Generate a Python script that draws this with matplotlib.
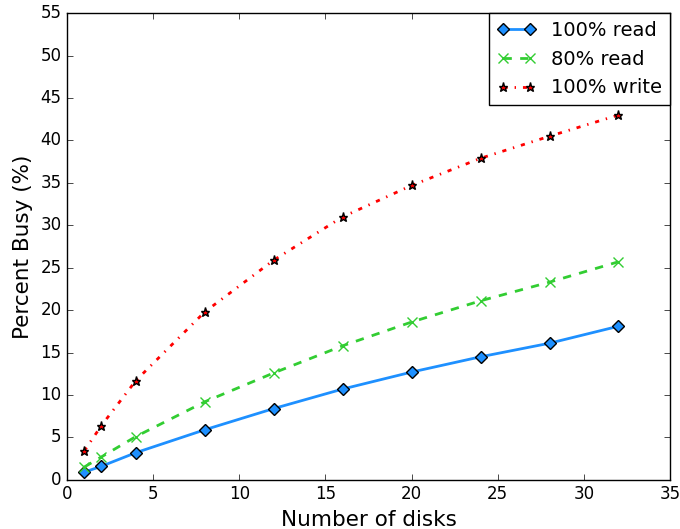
import matplotlib
matplotlib.use("Agg")
import matplotlib.pyplot as plt

plt.style.use("classic")

disks = [1, 2, 4, 8, 12, 16, 20, 24, 28, 32]
read100 = [0.9, 1.6, 3.2, 5.9, 8.4, 10.7, 12.7, 14.5, 16.1, 18.1]
read80 = [1.5, 2.7, 5.1, 9.2, 12.6, 15.8, 18.6, 21.1, 23.3, 25.7]
write100 = [3.4, 6.4, 11.7, 19.8, 25.9, 31.0, 34.7, 37.9, 40.5, 43.0]

fig = plt.figure(figsize=(6.8, 5.29), dpi=100, facecolor="white")
ax = fig.add_axes([0.0985, 0.093, 0.887, 0.882])

ax.plot(disks, read100, "-", color="#1E90FF", lw=2, marker="D", ms=6.5,
        mfc="#1E90FF", mec="black", mew=1, label="100% read")
ax.plot(disks, read80, "--", color="#32CD32", lw=2, marker="x", ms=7,
        mec="#32CD32", mew=1, label="80% read")
ax.plot(disks, write100, linestyle=(0, (3, 5, 1, 5)), color="red", lw=2,
        marker="*", ms=6.5, mfc="red", mec="black", mew=1, label="100% write")

ax.set_xlim(0, 35)
ax.set_ylim(0, 55)
ax.set_xticks(range(0, 36, 5))
ax.set_yticks(range(0, 56, 5))
ax.tick_params(labelsize=12)
ax.set_xlabel("Number of disks", fontsize=15.5)
ax.set_ylabel("Percent Busy (%)", fontsize=15.5)
leg = ax.legend(loc="upper right", fontsize=14, numpoints=2, borderaxespad=0.0,
                handlelength=2.0, fancybox=False)
leg.get_frame().set_linewidth(1)

fig.savefig("out.png", dpi=100, facecolor="white")
